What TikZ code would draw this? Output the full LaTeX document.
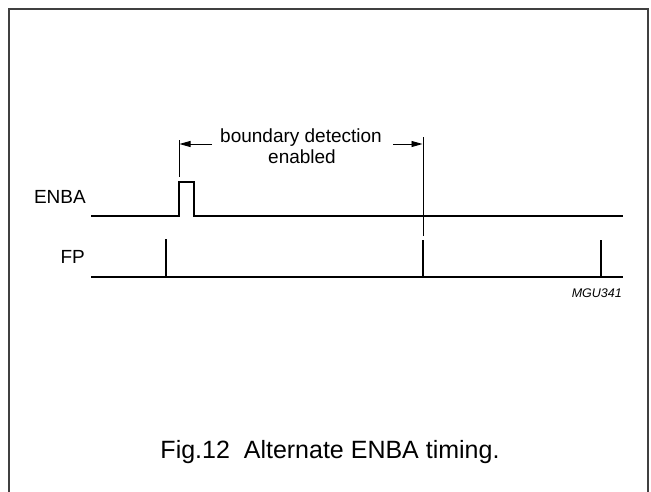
\documentclass[tikz,border=0pt]{standalone}
\usepackage{fontspec}
\setmainfont{Liberation Sans}
\usetikzlibrary{arrows.meta}
\begin{document}
\begin{tikzpicture}[x=1pt,y=-1pt,
  sig/.style={line width=2pt, line cap=butt, line join=miter},
  guide/.style={line width=0.8pt},
  dimarrow/.style={line width=0.9pt, -{Triangle[length=11pt,width=6pt]}},
  lab/.style={inner sep=0pt, font=\fontsize{19}{22}\selectfont},
  caption/.style={inner sep=0pt, font=\fontsize{25}{28}\selectfont},
  code/.style={inner sep=0pt, font=\fontsize{12.5}{14}\selectfont\itshape},
]
\useasboundingbox (0,0) rectangle (651,491);
\draw[line width=1.5pt, black!75] (9,492) -- (9,9) -- (648,9) -- (648,492);

% ENBA signal
\coordinate (e0) at (91,215.5);
\coordinate (pl) at (179,215.5);
\coordinate (plt) at (179,181.5);
\coordinate (prt) at (194,181.5);
\coordinate (pr) at (194,215.5);
\coordinate (e1) at (623,215.5);
\draw[sig] (e0) -- (pl) -- (plt) -- (prt) -- (pr) -- (e1);

% FP signal
\coordinate (f0) at (91,277);
\coordinate (f1) at (623,277);
\draw[sig] (f0) -- (f1);
\coordinate (t1b) at (166,277); \coordinate (t1t) at (166,239);
\coordinate (t2b) at (423,277); \coordinate (t2t) at (423,240);
\coordinate (t3b) at (601,277); \coordinate (t3t) at (601,240);
\draw[sig] (t1b) -- (t1t);
\draw[sig] (t2b) -- (t2t);
\draw[sig] (t3b) -- (t3t);

% guide lines
\coordinate (g1b) at (179,177); \coordinate (g1t) at (179,140);
\coordinate (g2b) at (423,236); \coordinate (g2t) at (423,137);
\draw[guide] (g1b) -- (g1t);
\draw[guide] (g2b) -- (g2t);

% labels
\node[lab, anchor=base east] (enba) at (86,203) {ENBA};
\node[lab, anchor=base east] (fp) at (85,263) {FP};
\node[lab, anchor=base] (bd1) at (301,142.5) {boundary detection};
\node[lab, anchor=base] (bd2) at (302,163) {enabled};
\node[code, anchor=base east] (mgu) at (622,297) {MGU341};
\node[caption, anchor=base] (cap) at (330,458) {Fig.12\ \ Alternate ENBA timing.};

% dimension arrows
\coordinate (a1s) at (212,144); \coordinate (a1e) at (179.5,144);
\coordinate (a2s) at (393,144); \coordinate (a2e) at (422.5,144);
\draw[dimarrow] (a1s) -- (a1e);
\draw[dimarrow] (a2s) -- (a2e);
\end{tikzpicture}
\end{document}
